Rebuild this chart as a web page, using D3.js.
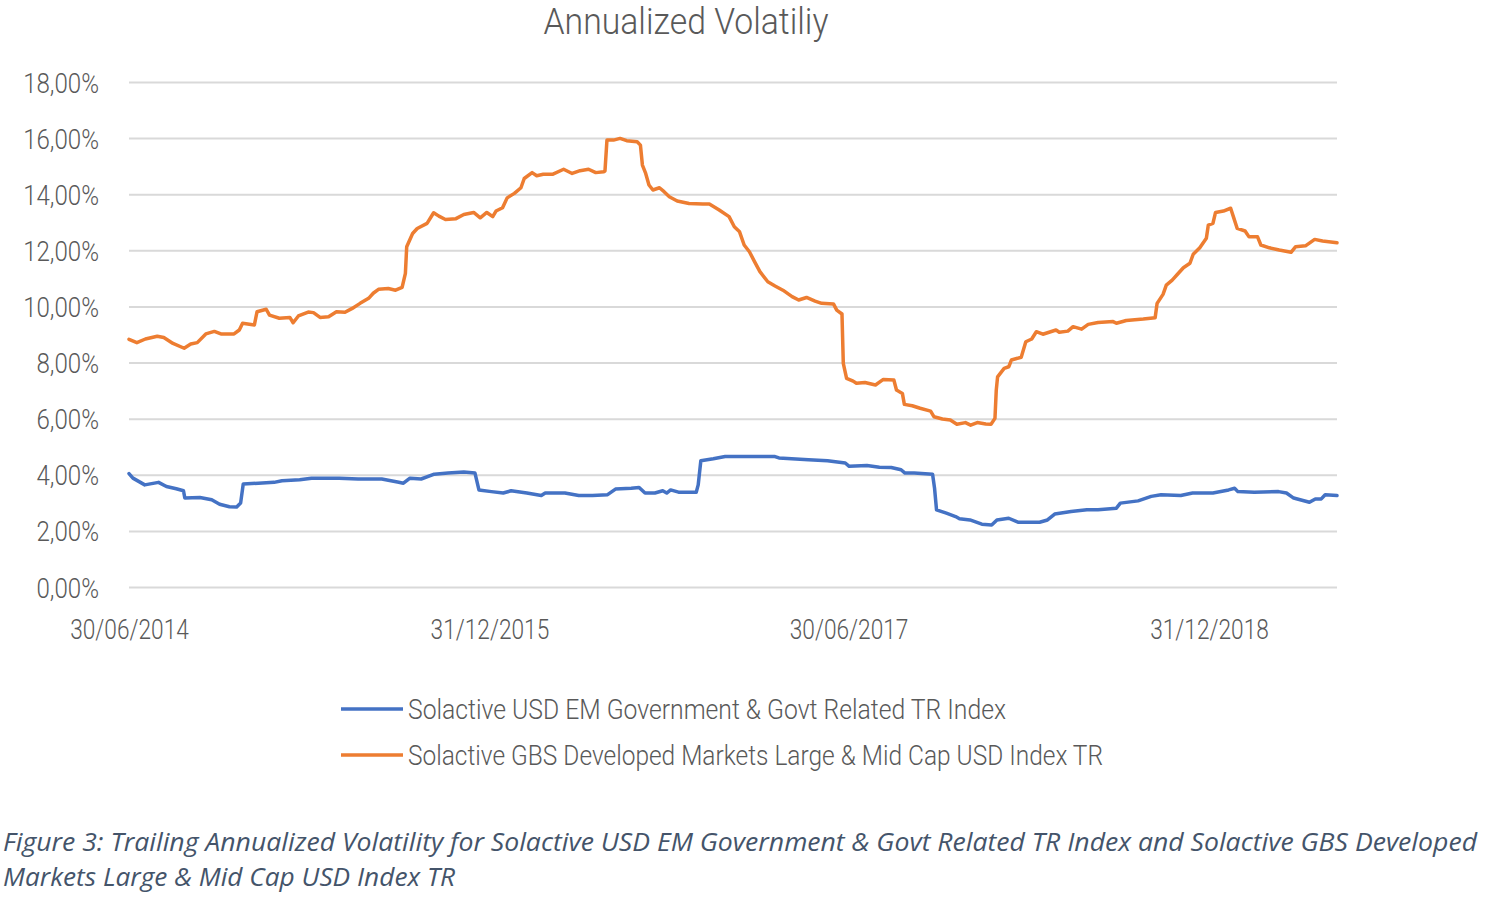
<!DOCTYPE html>
<html>
<head>
<meta charset="utf-8">
<script src="https://cdn.jsdelivr.net/npm/d3@7/dist/d3.min.js"></script>
<style>
  html, body { margin: 0; padding: 0; background: #ffffff; }
  svg { display: block; }
</style>
</head>
<body>
<svg id="chart" width="1504" height="898"></svg>
<script>
// ---------------- DATA ----------------
const chartTitle = "Annualized Volatiliy";
const seriesNames = [
  "Solactive USD EM Government & Govt Related TR Index",
  "Solactive GBS Developed Markets Large & Mid Cap USD Index TR"
];
const captionLines = [
  "Figure 3: Trailing Annualized Volatility for Solactive USD EM Government & Govt Related TR Index and Solactive GBS Developed",
  "Markets Large & Mid Cap USD Index TR"
];
const xTickDates = ["2014-06-30", "2015-12-31", "2017-06-30", "2018-12-31"];
const xDomain = ["2014-06-30", "2019-07-14"];
const yTicks = [0, 2, 4, 6, 8, 10, 12, 14, 16, 18];

// Solactive USD EM Government & Govt Related TR Index (volatility, %)
const emDates = [
  "2014-06-30","2014-07-06","2014-07-24","2014-08-14","2014-08-26","2014-09-10","2014-09-21","2014-09-23",
  "2014-10-16","2014-11-03","2014-11-15","2014-11-30","2014-12-11","2014-12-17","2014-12-21","2015-01-13",
  "2015-02-06","2015-02-18","2015-03-17","2015-04-04","2015-05-16","2015-06-14","2015-07-20","2015-08-13",
  "2015-08-22","2015-09-01","2015-09-18","2015-10-08","2015-10-29","2015-11-22","2015-12-09","2015-12-15",
  "2016-01-03","2016-01-21","2016-02-02","2016-02-26","2016-03-19","2016-03-25","2016-04-24","2016-05-15",
  "2016-06-05","2016-06-28","2016-07-10","2016-08-03","2016-08-15","2016-08-24","2016-09-08","2016-09-20",
  "2016-09-26","2016-10-02","2016-10-14","2016-11-10","2016-11-13","2016-11-17","2016-12-06","2016-12-24",
  "2017-01-04","2017-02-07","2017-03-10","2017-03-16","2017-04-30","2017-05-29","2017-06-25","2017-07-01",
  "2017-07-28","2017-08-16","2017-09-03","2017-09-18","2017-09-24","2017-10-08","2017-11-05","2017-11-08",
  "2017-11-11","2017-11-26","2017-12-10","2017-12-16","2018-01-01","2018-01-19","2018-02-03","2018-02-11",
  "2018-03-01","2018-03-15","2018-04-17","2018-04-29","2018-05-10","2018-06-04","2018-06-28","2018-07-15",
  "2018-08-12","2018-08-18","2018-09-14","2018-10-04","2018-10-19","2018-11-18","2018-12-06","2019-01-06",
  "2019-01-30","2019-02-08","2019-02-13","2019-03-10","2019-04-16","2019-04-28","2019-05-09","2019-06-02",
  "2019-06-11","2019-06-20","2019-06-26","2019-07-14"
];
const emValues = [
  4.04,3.88,3.64,3.73,3.58,3.50,3.43,3.17,
  3.19,3.11,2.95,2.86,2.85,2.99,3.67,3.70,
  3.73,3.79,3.82,3.88,3.88,3.85,3.85,3.74,
  3.70,3.88,3.85,4.02,4.06,4.10,4.06,3.46,
  3.40,3.35,3.43,3.35,3.26,3.35,3.35,3.26,
  3.26,3.29,3.49,3.52,3.55,3.35,3.35,3.43,
  3.35,3.46,3.38,3.38,3.64,4.50,4.57,4.65,
  4.65,4.65,4.65,4.60,4.54,4.50,4.42,4.30,
  4.33,4.27,4.26,4.18,4.06,4.06,4.02,3.52,
  2.75,2.63,2.51,2.43,2.39,2.24,2.21,2.39,
  2.45,2.31,2.31,2.39,2.60,2.69,2.75,2.75,
  2.81,2.99,3.07,3.23,3.29,3.26,3.35,3.35,
  3.46,3.52,3.40,3.38,3.40,3.35,3.17,3.02,
  3.14,3.14,3.29,3.26
];

// Solactive GBS Developed Markets Large & Mid Cap USD Index TR (volatility, %)
const dmDates = [
  "2014-06-30","2014-07-12","2014-07-25","2014-08-12","2014-08-22","2014-09-05","2014-09-22","2014-10-02",
  "2014-10-12","2014-10-25","2014-11-07","2014-11-17","2014-12-07","2014-12-15","2014-12-20","2015-01-07",
  "2015-01-11","2015-01-25","2015-01-30","2015-02-14","2015-03-02","2015-03-07","2015-03-15","2015-03-30",
  "2015-04-07","2015-04-17","2015-04-30","2015-05-12","2015-05-25","2015-06-05","2015-06-17","2015-06-30",
  "2015-07-07","2015-07-15","2015-07-30","2015-08-10","2015-08-20","2015-08-25","2015-08-27","2015-09-05",
  "2015-09-12","2015-09-27","2015-10-07","2015-10-15","2015-10-25","2015-11-10","2015-11-22","2015-12-07",
  "2015-12-17","2015-12-27","2016-01-05","2016-01-10","2016-01-20","2016-01-27","2016-02-07","2016-02-17",
  "2016-02-22","2016-03-05","2016-03-12","2016-03-22","2016-04-05","2016-04-22","2016-05-05","2016-05-17",
  "2016-05-30","2016-06-10","2016-06-22","2016-06-24","2016-06-27","2016-07-07","2016-07-17","2016-07-27",
  "2016-08-12","2016-08-17","2016-08-20","2016-08-25","2016-08-30","2016-09-05","2016-09-15","2016-09-22",
  "2016-09-30","2016-10-12","2016-10-30","2016-11-20","2016-11-30","2016-12-15","2016-12-30","2017-01-07",
  "2017-01-15","2017-01-22","2017-01-30","2017-02-07","2017-02-15","2017-02-27","2017-03-10","2017-03-22",
  "2017-04-05","2017-04-15","2017-04-27","2017-05-10","2017-05-20","2017-06-07","2017-06-12","2017-06-20",
  "2017-06-22","2017-06-27","2017-07-07","2017-07-12","2017-07-25","2017-08-10","2017-08-22","2017-09-07",
  "2017-09-11","2017-09-20","2017-09-23","2017-10-05","2017-10-17","2017-11-02","2017-11-07","2017-11-20",
  "2017-12-02","2017-12-12","2017-12-25","2018-01-02","2018-01-12","2018-01-25","2018-02-02","2018-02-08",
  "2018-02-10","2018-02-12","2018-02-22","2018-03-01","2018-03-05","2018-03-20","2018-03-27","2018-04-05",
  "2018-04-12","2018-04-22","2018-05-12","2018-05-17","2018-05-30","2018-06-07","2018-06-20","2018-06-30",
  "2018-07-15","2018-08-07","2018-08-12","2018-08-27","2018-09-22","2018-10-10","2018-10-13","2018-10-22",
  "2018-10-27","2018-11-05","2018-11-12","2018-11-22","2018-12-02","2018-12-07","2018-12-17","2018-12-27",
  "2018-12-30","2019-01-06","2019-01-10","2019-01-22","2019-02-02","2019-02-07","2019-02-12","2019-02-24",
  "2019-03-02","2019-03-15","2019-03-20","2019-04-02","2019-04-17","2019-05-05","2019-05-12","2019-05-27",
  "2019-06-10","2019-06-22","2019-07-14"
];
const dmValues = [
  8.83,8.71,8.84,8.94,8.89,8.68,8.51,8.66,
  8.71,9.02,9.11,9.02,9.02,9.16,9.40,9.34,
  9.81,9.90,9.69,9.58,9.61,9.42,9.66,9.80,
  9.78,9.61,9.63,9.81,9.79,9.93,10.11,10.29,
  10.47,10.61,10.64,10.58,10.68,11.18,12.13,12.60,
  12.78,12.96,13.34,13.22,13.10,13.13,13.28,13.35,
  13.16,13.35,13.20,13.40,13.52,13.87,14.03,14.23,
  14.56,14.77,14.66,14.71,14.71,14.89,14.74,14.84,
  14.89,14.77,14.80,14.83,15.93,15.93,15.99,15.91,
  15.87,15.75,15.04,14.74,14.33,14.15,14.23,14.09,
  13.91,13.76,13.67,13.65,13.65,13.44,13.20,12.84,
  12.66,12.19,11.95,11.59,11.24,10.88,10.73,10.58,
  10.35,10.23,10.32,10.19,10.11,10.09,9.87,9.73,
  7.97,7.44,7.34,7.26,7.29,7.20,7.40,7.38,
  7.02,6.90,6.51,6.46,6.37,6.27,6.07,5.99,
  5.95,5.80,5.86,5.77,5.86,5.81,5.80,6.01,
  7.02,7.49,7.79,7.85,8.09,8.19,8.74,8.84,
  9.10,9.01,9.16,9.08,9.12,9.28,9.19,9.36,
  9.43,9.46,9.40,9.50,9.55,9.60,10.11,10.43,
  10.76,10.94,11.12,11.38,11.54,11.86,12.09,12.43,
  12.90,12.96,13.35,13.40,13.50,13.14,12.78,12.69,
  12.48,12.48,12.19,12.09,12.01,11.93,12.13,12.16,
  12.39,12.33,12.27
];

const seriesColors = ["#4472C4", "#ED7D31"];

// ---------------- DRAW ----------------
const parse = d3.timeParse("%Y-%m-%d");
const fmtTick = d3.timeFormat("%d/%m/%Y");
const svg = d3.select("#chart");

const plot = { left: 129, right: 1337, top: 82, bottom: 587 };

const x = d3.scaleTime()
  .domain(xDomain.map(parse))
  .range([plot.left, plot.right]);
const y = d3.scaleLinear()
  .domain([0, 18])
  .range([plot.bottom, plot.top]);

const textColor = "#595959";
const axisFont = "Roboto, 'DejaVu Sans', sans-serif";

// title
svg.append("text")
  .attr("x", 686).attr("y", 34)
  .attr("text-anchor", "middle")
  .attr("font-family", axisFont).attr("font-weight", 300)
  .attr("font-size", 37).attr("fill", textColor)
  .attr("textLength", 285).attr("lengthAdjust", "spacingAndGlyphs")
  .text(chartTitle);

// gridlines + y labels through axis
const yAxis = d3.axisLeft(y)
  .tickValues(yTicks)
  .tickSize(-(plot.right - plot.left))
  .tickPadding(30)
  .tickFormat(d => d3.format(".2f")(d).replace(".", ",") + "%");

const gy = svg.append("g")
  .attr("transform", `translate(${plot.left},0)`)
  .call(yAxis);
gy.select(".domain").remove();
gy.selectAll(".tick line").attr("stroke", "#d9d9d9").attr("stroke-width", 2);
gy.selectAll(".tick text")
  .attr("font-family", axisFont).attr("font-weight", 300)
  .attr("font-size", 28).attr("fill", textColor)
  .attr("dy", "0.36em");

// x axis labels
const xAxis = d3.axisBottom(x)
  .tickValues(xTickDates.map(parse))
  .tickSize(0)
  .tickPadding(32)
  .tickFormat(fmtTick);
const gx = svg.append("g")
  .attr("transform", `translate(0,${plot.bottom})`)
  .call(xAxis);
gx.select(".domain").remove();
gx.selectAll(".tick text")
  .attr("font-family", axisFont).attr("font-weight", 300)
  .attr("font-size", 28).attr("fill", textColor);

// condense axis labels
gy.selectAll(".tick text").each(function() {
  const w = this.getComputedTextLength();
  d3.select(this).attr("textLength", w * 0.86).attr("lengthAdjust", "spacingAndGlyphs");
});
gx.selectAll(".tick text").each(function() {
  const w = this.getComputedTextLength();
  d3.select(this).attr("textLength", w * 0.81).attr("lengthAdjust", "spacingAndGlyphs");
});

// lines
const series = [
  { name: seriesNames[0], color: seriesColors[0], data: emDates.map((d, i) => ({ date: parse(d), value: emValues[i] })) },
  { name: seriesNames[1], color: seriesColors[1], data: dmDates.map((d, i) => ({ date: parse(d), value: dmValues[i] })) }
];
const line = d3.line().x(d => x(d.date)).y(d => y(d.value));
svg.append("g").selectAll("path")
  .data(series)
  .join("path")
  .attr("d", d => line(d.data))
  .attr("fill", "none")
  .attr("stroke", d => d.color)
  .attr("stroke-width", 3.5)
  .attr("stroke-linejoin", "round")
  .attr("stroke-linecap", "round");

// legend
const legendWidths = [598, 695];
const legend = svg.append("g");
series.forEach((s, i) => {
  const ly = 709 + i * 46;
  legend.append("line")
    .attr("x1", 341).attr("x2", 403)
    .attr("y1", ly).attr("y2", ly)
    .attr("stroke", s.color).attr("stroke-width", 3.5);
  legend.append("text")
    .attr("x", 408).attr("y", ly + 10)
    .attr("font-family", axisFont).attr("font-weight", 300)
    .attr("font-size", 28).attr("fill", textColor)
    .attr("textLength", legendWidths[i]).attr("lengthAdjust", "spacingAndGlyphs")
    .text(s.name);
});

// caption
const capWidths = [1474, 452];
captionLines.forEach((t, i) => {
  svg.append("text")
    .attr("x", 3).attr("y", 851 + i * 35)
    .attr("font-family", "'Open Sans', 'Noto Sans', sans-serif")
    .attr("font-style", "italic")
    .attr("font-size", 25).attr("fill", "#44546A")
    .attr("textLength", capWidths[i]).attr("lengthAdjust", "spacingAndGlyphs")
    .text(t);
});
</script>
</body>
</html>
